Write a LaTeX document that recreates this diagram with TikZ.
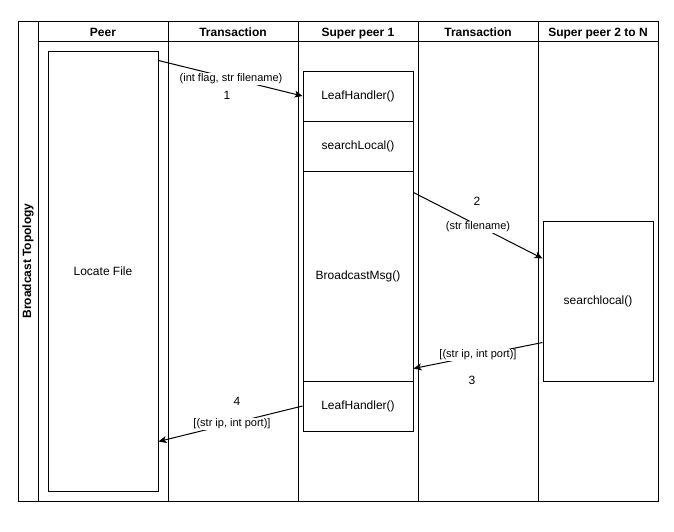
\documentclass[tikz,border=0pt]{standalone}
\usepackage{fontspec}
\setmainfont{Liberation Sans}
\usetikzlibrary{arrows.meta,calc}
\begin{document}
\begin{tikzpicture}[x=1pt,y=-1pt,line width=1pt,
  box/.style={draw, fill=white, minimum width=110pt, inner sep=0pt, align=center, font=\fontsize{12}{14}\selectfont},
  hdr/.style={inner sep=0pt, anchor=base, font=\fontsize{12}{14}\selectfont\bfseries},
  lbl/.style={fill=white, inner sep=1pt, font=\fontsize{11}{13}\selectfont},
  num/.style={inner sep=1pt, font=\fontsize{12}{14}\selectfont},
  msg/.style={-{Stealth[length=8pt,width=7pt,inset=2pt]}}
]
\useasboundingbox (0,0) rectangle (674,531);
% pool and lanes
\draw (18,21) rectangle (658,501);
\draw (38,21) -- (38,501);
\draw (38,41) -- (658,41);
\foreach \x in {168,298,418,538} \draw (\x,21) -- (\x,501);
\node[inner sep=0pt, font=\fontsize{12}{14}\selectfont\bfseries, rotate=90] (title) at (28,261) {Broadcast Topology};
\node[hdr] (h1) at (103,36) {Peer};
\node[hdr] (h2) at (233,36) {Transaction};
\node[hdr] (h3) at (358,36) {Super peer 1};
\node[hdr] (h4) at (478,36) {Transaction};
\node[hdr] (h5) at (598,36) {Super peer 2 to N};
% boxes
\node[box, minimum height=440pt] (peer) at (103,271) {Locate File};
\node[box, minimum height=50pt] (leaf1) at (358,96) {LeafHandler()};
\node[box, minimum height=50pt] (search) at (358,146) {searchLocal()};
\node[box, minimum height=210pt] (bcast) at (358,276) {BroadcastMsg()};
\node[box, minimum height=50pt] (leaf2) at (358,406) {LeafHandler()};
\node[box, minimum height=160pt] (sl) at (598,301) {searchlocal()};
% messages
\draw[msg] ($(peer.north east)+(0,10)$) -- (leaf1.west);
\draw[msg] ($(bcast.north east)+(0,22)$) -- ($(sl.north west)+(0,38)$);
\draw[msg] ($(sl.south west)+(0,-39)$) -- ($(bcast.south east)+(0,-13)$);
\draw[msg] (leaf2.west) -- ($(peer.south east)+(0,-50)$);
% labels
\node[lbl] (l1) at (231,79) {(int flag, str filename)};
\node[num] (n1) at (227,95) {1};
\node[num] (n2) at (477,201) {2};
\node[lbl] (l2) at (478,227) {(str filename)};
\node[lbl] (l3) at (478,355) {[(str ip, int port)]};
\node[num] (n3) at (472,380) {3};
\node[num] (n4) at (237,401) {4};
\node[lbl] (l4) at (232,424) {[(str ip, int port)]};
\end{tikzpicture}
\end{document}
